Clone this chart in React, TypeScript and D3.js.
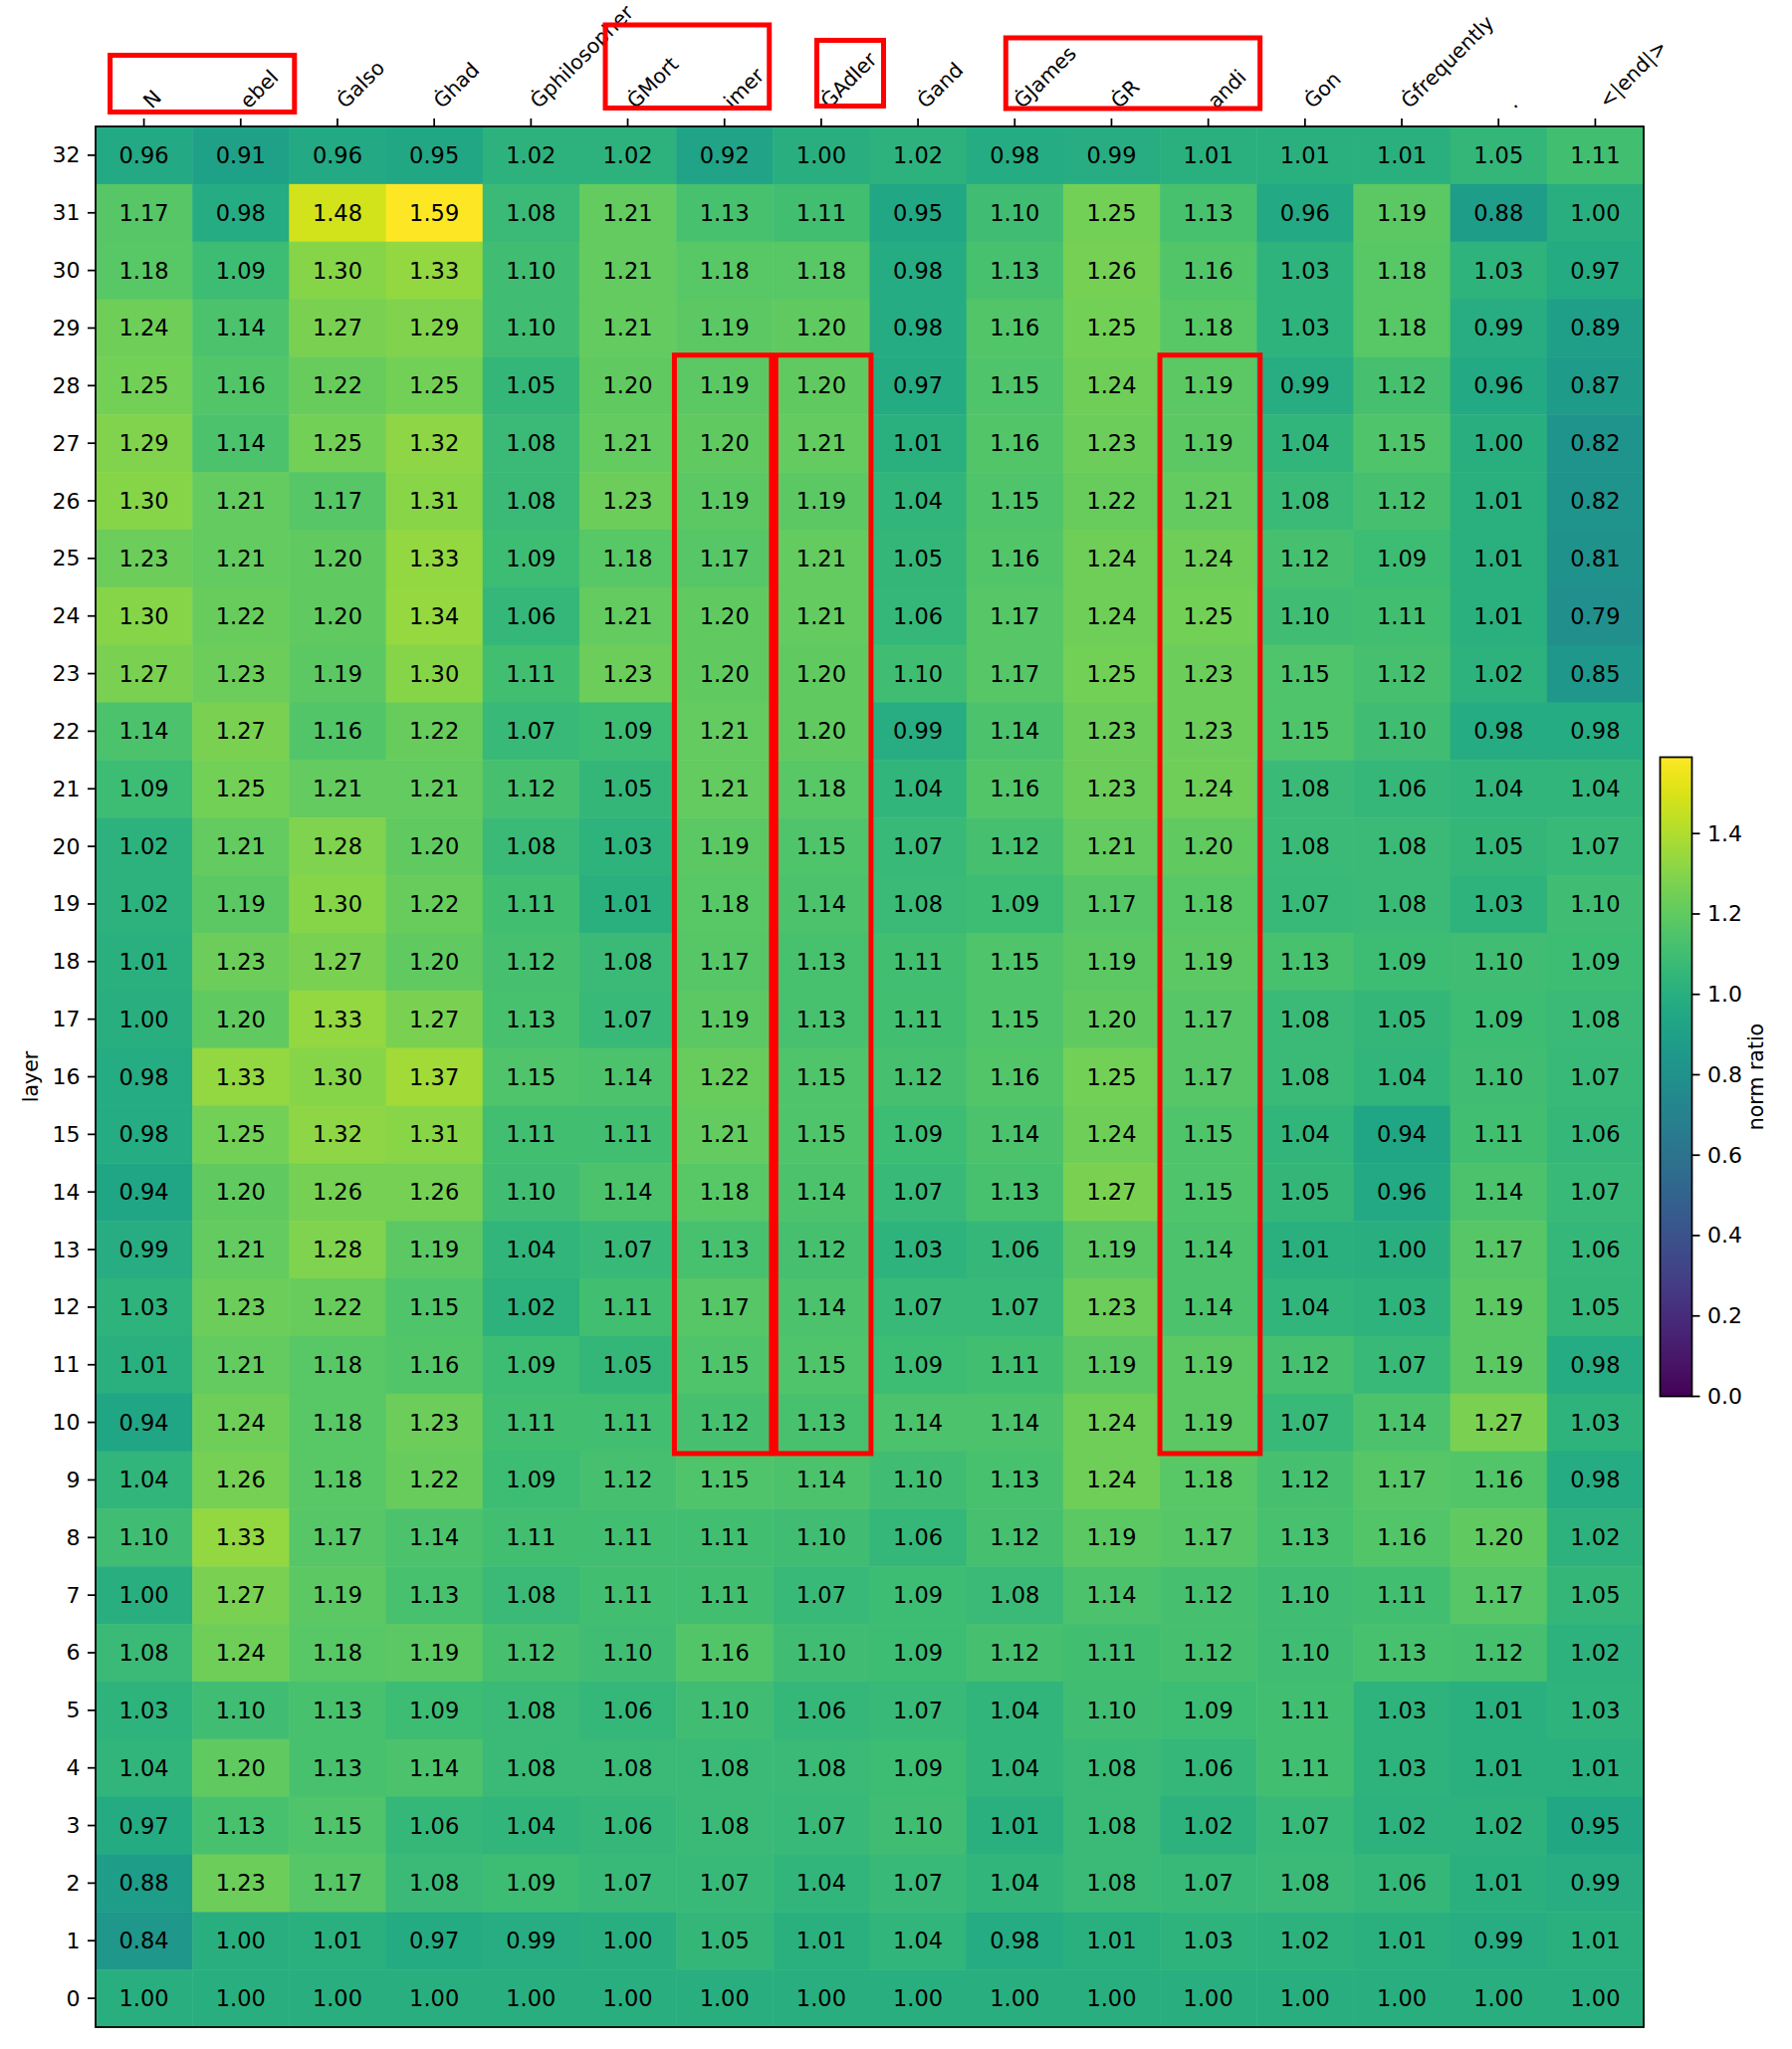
import React from "react";
import * as d3 from "d3";

const tokens = ["N", "ebel", "Ġalso", "Ġhad", "Ġphilosopher", "ĠMort", "imer", "ĠAdler", "Ġand", "ĠJames", "ĠR", "andi", "Ġon", "Ġfrequently", ".", "<|end|>"];
const layers = [32, 31, 30, 29, 28, 27, 26, 25, 24, 23, 22, 21, 20, 19, 18, 17, 16, 15, 14, 13, 12, 11, 10, 9, 8, 7, 6, 5, 4, 3, 2, 1, 0];

const L32 = [0.96, 0.91, 0.96, 0.95, 1.02, 1.02, 0.92, 1.00, 1.02, 0.98, 0.99, 1.01, 1.01, 1.01, 1.05, 1.11];
const L31 = [1.17, 0.98, 1.48, 1.59, 1.08, 1.21, 1.13, 1.11, 0.95, 1.10, 1.25, 1.13, 0.96, 1.19, 0.88, 1.00];
const L30 = [1.18, 1.09, 1.30, 1.33, 1.10, 1.21, 1.18, 1.18, 0.98, 1.13, 1.26, 1.16, 1.03, 1.18, 1.03, 0.97];
const L29 = [1.24, 1.14, 1.27, 1.29, 1.10, 1.21, 1.19, 1.20, 0.98, 1.16, 1.25, 1.18, 1.03, 1.18, 0.99, 0.89];
const L28 = [1.25, 1.16, 1.22, 1.25, 1.05, 1.20, 1.19, 1.20, 0.97, 1.15, 1.24, 1.19, 0.99, 1.12, 0.96, 0.87];
const L27 = [1.29, 1.14, 1.25, 1.32, 1.08, 1.21, 1.20, 1.21, 1.01, 1.16, 1.23, 1.19, 1.04, 1.15, 1.00, 0.82];
const L26 = [1.30, 1.21, 1.17, 1.31, 1.08, 1.23, 1.19, 1.19, 1.04, 1.15, 1.22, 1.21, 1.08, 1.12, 1.01, 0.82];
const L25 = [1.23, 1.21, 1.20, 1.33, 1.09, 1.18, 1.17, 1.21, 1.05, 1.16, 1.24, 1.24, 1.12, 1.09, 1.01, 0.81];
const L24 = [1.30, 1.22, 1.20, 1.34, 1.06, 1.21, 1.20, 1.21, 1.06, 1.17, 1.24, 1.25, 1.10, 1.11, 1.01, 0.79];
const L23 = [1.27, 1.23, 1.19, 1.30, 1.11, 1.23, 1.20, 1.20, 1.10, 1.17, 1.25, 1.23, 1.15, 1.12, 1.02, 0.85];
const L22 = [1.14, 1.27, 1.16, 1.22, 1.07, 1.09, 1.21, 1.20, 0.99, 1.14, 1.23, 1.23, 1.15, 1.10, 0.98, 0.98];
const L21 = [1.09, 1.25, 1.21, 1.21, 1.12, 1.05, 1.21, 1.18, 1.04, 1.16, 1.23, 1.24, 1.08, 1.06, 1.04, 1.04];
const L20 = [1.02, 1.21, 1.28, 1.20, 1.08, 1.03, 1.19, 1.15, 1.07, 1.12, 1.21, 1.20, 1.08, 1.08, 1.05, 1.07];
const L19 = [1.02, 1.19, 1.30, 1.22, 1.11, 1.01, 1.18, 1.14, 1.08, 1.09, 1.17, 1.18, 1.07, 1.08, 1.03, 1.10];
const L18 = [1.01, 1.23, 1.27, 1.20, 1.12, 1.08, 1.17, 1.13, 1.11, 1.15, 1.19, 1.19, 1.13, 1.09, 1.10, 1.09];
const L17 = [1.00, 1.20, 1.33, 1.27, 1.13, 1.07, 1.19, 1.13, 1.11, 1.15, 1.20, 1.17, 1.08, 1.05, 1.09, 1.08];
const L16 = [0.98, 1.33, 1.30, 1.37, 1.15, 1.14, 1.22, 1.15, 1.12, 1.16, 1.25, 1.17, 1.08, 1.04, 1.10, 1.07];
const L15 = [0.98, 1.25, 1.32, 1.31, 1.11, 1.11, 1.21, 1.15, 1.09, 1.14, 1.24, 1.15, 1.04, 0.94, 1.11, 1.06];
const L14 = [0.94, 1.20, 1.26, 1.26, 1.10, 1.14, 1.18, 1.14, 1.07, 1.13, 1.27, 1.15, 1.05, 0.96, 1.14, 1.07];
const L13 = [0.99, 1.21, 1.28, 1.19, 1.04, 1.07, 1.13, 1.12, 1.03, 1.06, 1.19, 1.14, 1.01, 1.00, 1.17, 1.06];
const L12 = [1.03, 1.23, 1.22, 1.15, 1.02, 1.11, 1.17, 1.14, 1.07, 1.07, 1.23, 1.14, 1.04, 1.03, 1.19, 1.05];
const L11 = [1.01, 1.21, 1.18, 1.16, 1.09, 1.05, 1.15, 1.15, 1.09, 1.11, 1.19, 1.19, 1.12, 1.07, 1.19, 0.98];
const L10 = [0.94, 1.24, 1.18, 1.23, 1.11, 1.11, 1.12, 1.13, 1.14, 1.14, 1.24, 1.19, 1.07, 1.14, 1.27, 1.03];
const L9 = [1.04, 1.26, 1.18, 1.22, 1.09, 1.12, 1.15, 1.14, 1.10, 1.13, 1.24, 1.18, 1.12, 1.17, 1.16, 0.98];
const L8 = [1.10, 1.33, 1.17, 1.14, 1.11, 1.11, 1.11, 1.10, 1.06, 1.12, 1.19, 1.17, 1.13, 1.16, 1.20, 1.02];
const L7 = [1.00, 1.27, 1.19, 1.13, 1.08, 1.11, 1.11, 1.07, 1.09, 1.08, 1.14, 1.12, 1.10, 1.11, 1.17, 1.05];
const L6 = [1.08, 1.24, 1.18, 1.19, 1.12, 1.10, 1.16, 1.10, 1.09, 1.12, 1.11, 1.12, 1.10, 1.13, 1.12, 1.02];
const L5 = [1.03, 1.10, 1.13, 1.09, 1.08, 1.06, 1.10, 1.06, 1.07, 1.04, 1.10, 1.09, 1.11, 1.03, 1.01, 1.03];
const L4 = [1.04, 1.20, 1.13, 1.14, 1.08, 1.08, 1.08, 1.08, 1.09, 1.04, 1.08, 1.06, 1.11, 1.03, 1.01, 1.01];
const L3 = [0.97, 1.13, 1.15, 1.06, 1.04, 1.06, 1.08, 1.07, 1.10, 1.01, 1.08, 1.02, 1.07, 1.02, 1.02, 0.95];
const L2 = [0.88, 1.23, 1.17, 1.08, 1.09, 1.07, 1.07, 1.04, 1.07, 1.04, 1.08, 1.07, 1.08, 1.06, 1.01, 0.99];
const L1 = [0.84, 1.00, 1.01, 0.97, 0.99, 1.00, 1.05, 1.01, 1.04, 0.98, 1.01, 1.03, 1.02, 1.01, 0.99, 1.01];
const L0 = [1.00, 1.00, 1.00, 1.00, 1.00, 1.00, 1.00, 1.00, 1.00, 1.00, 1.00, 1.00, 1.00, 1.00, 1.00, 1.00];

const rows = [L32, L31, L30, L29, L28, L27, L26, L25, L24, L23, L22, L21, L20, L19, L18, L17, L16, L15, L14, L13, L12, L11, L10, L9, L8, L7, L6, L5, L4, L3, L2, L1, L0];

const colorbarTicks = [0.0, 0.2, 0.4, 0.6, 0.8, 1.0, 1.2, 1.4];

// highlighted columns (token index) over layers 10..28
const highlightCols = [6, 7, 11];
const highlightLayers = [10, 28];
// highlighted token-label groups
const labelGroups = [[0, 1], [5, 6], [7, 7], [9, 11]];

// ---- layout (not data) ----
const W = 1800, H = 2058;
const PL = 96, PR = 1651, PT = 127, PB = 2036;
const CB = { x0: 1667.5, x1: 1699.5, y0: 760.5, y1: 1402.5 };
const FONT = "DejaVu Sans, Verdana, sans-serif";
const hlOffsets = [[-1.7, -1.4], [3, 1.4], [0, 3.5]];
const lgBoxes = [
  { l: -34, r: 54, t: 55.5, b: 112.5 },
  { l: -22.5, r: 45, t: 25, b: 108.5 },
  { l: -4.5, r: 62.6, t: 40.5, b: 106.5 },
  { l: -9, r: 52, t: 38, b: 109 },
];
const labelExtraDx = [0, 0, 0, 0, 0, 0, 0, 0, 0, 0, 0, 0, 0, 0, 8, 4];

export default function App() {
  const x = d3.scaleBand<number>().domain(d3.range(tokens.length)).range([PL, PR]).padding(0);
  const y = d3.scaleBand<number>().domain(layers).range([PT, PB]).padding(0);
  const vmax = d3.max(rows.flat()) as number;
  const color = d3.scaleSequential(d3.interpolateViridis).domain([0, vmax]);
  const cbScale = d3.scaleLinear().domain([0, vmax]).range([CB.y1, CB.y0]);
  const bw = x.bandwidth();
  const bh = y.bandwidth();
  const gradStops = d3.range(0, 1.0001, 0.02);

  return (
    <svg width={W} height={H} style={{ position: "absolute", left: 0, top: 0, background: "#fff" }} fontFamily={FONT}>
      <defs>
        <linearGradient id="cbgrad" x1="0" y1="1" x2="0" y2="0">
          {gradStops.map((t, i) => (
            <stop key={i} offset={t} stopColor={d3.interpolateViridis(t)} />
          ))}
        </linearGradient>
      </defs>
      <rect x={0} y={0} width={W} height={H} fill="#fff" />
      {/* cells */}
      {rows.map((row, ri) =>
        row.map((v, ci) => (
          <rect key={`c${ri}-${ci}`} x={x(ci)} y={y(layers[ri])} width={bw + 0.5} height={bh + 0.5} fill={color(v)} />
        ))
      )}
      {rows.map((row, ri) =>
        row.map((v, ci) => (
          <text key={`t${ri}-${ci}`} x={(x(ci) as number) + bw / 2} y={(y(layers[ri]) as number) + bh / 2} textAnchor="middle" dominantBaseline="central" fontSize={22.5} fill="#000">
            {v.toFixed(2)}
          </text>
        ))
      )}
      {/* frame */}
      <rect x={PL} y={PT} width={PR - PL} height={PB - PT} fill="none" stroke="#000" strokeWidth={1.75} />
      {/* y ticks */}
      {layers.map((l) => {
        const cy = (y(l) as number) + bh / 2;
        return (
          <g key={`y${l}`}>
            <line x1={PL - 8} x2={PL} y1={cy} y2={cy} stroke="#000" strokeWidth={1.75} />
            <text x={PL - 15.5} y={cy} textAnchor="end" dominantBaseline="central" fontSize={22} fill="#000">{l}</text>
          </g>
        );
      })}
      {/* x ticks on top */}
      {tokens.map((tk, i) => {
        const cx = (x(i) as number) + bw / 2;
        const tx = cx + 8 + labelExtraDx[i];
        const ty = 110;
        return (
          <g key={`x${i}`}>
            <line x1={cx} x2={cx} y1={PT - 8} y2={PT} stroke="#000" strokeWidth={1.75} />
            <text x={tx} y={ty} transform={`rotate(-45 ${tx} ${ty})`} fontSize={20.5} fill="#000">{tk}</text>
          </g>
        );
      })}
      {/* axis label */}
      <text x={38} y={(PT + PB) / 2} transform={`rotate(-90 38 ${(PT + PB) / 2})`} textAnchor="middle" fontSize={20.5} fill="#000">layer</text>
      {/* highlight boxes in plot */}
      {highlightCols.map((c, i) => {
        const x0 = (x(c) as number) + hlOffsets[i][0];
        const x1 = (x(c) as number) + bw + hlOffsets[i][1];
        const y0 = (y(highlightLayers[1]) as number) - 1.7;
        const y1 = (y(highlightLayers[0]) as number) + bh + 2.4;
        return <rect key={`h${c}`} x={x0} y={y0} width={x1 - x0} height={y1 - y0} fill="none" stroke="#ff0000" strokeWidth={5} />;
      })}
      {/* highlight boxes on labels */}
      {labelGroups.map((g, i) => {
        const b = lgBoxes[i];
        const x0 = (x(g[0]) as number) + bw / 2 + b.l;
        const x1 = (x(g[1]) as number) + bw / 2 + b.r;
        return <rect key={`lg${i}`} x={x0} y={b.t} width={x1 - x0} height={b.b - b.t} fill="none" stroke="#ff0000" strokeWidth={5} />;
      })}
      {/* colorbar */}
      <rect x={CB.x0} y={CB.y0} width={CB.x1 - CB.x0} height={CB.y1 - CB.y0} fill="url(#cbgrad)" stroke="#000" strokeWidth={1.75} />
      {colorbarTicks.map((t) => {
        const ty = cbScale(t);
        return (
          <g key={`cb${t}`}>
            <line x1={CB.x1} x2={CB.x1 + 8} y1={ty} y2={ty} stroke="#000" strokeWidth={1.75} />
            <text x={CB.x1 + 15.5} y={ty} dominantBaseline="central" fontSize={22} fill="#000">{t.toFixed(1)}</text>
          </g>
        );
      })}
      <text x={1771} y={(CB.y0 + CB.y1) / 2} transform={`rotate(-90 1771 ${(CB.y0 + CB.y1) / 2})`} textAnchor="middle" fontSize={20.5} fill="#000">norm ratio</text>
    </svg>
  );
}
